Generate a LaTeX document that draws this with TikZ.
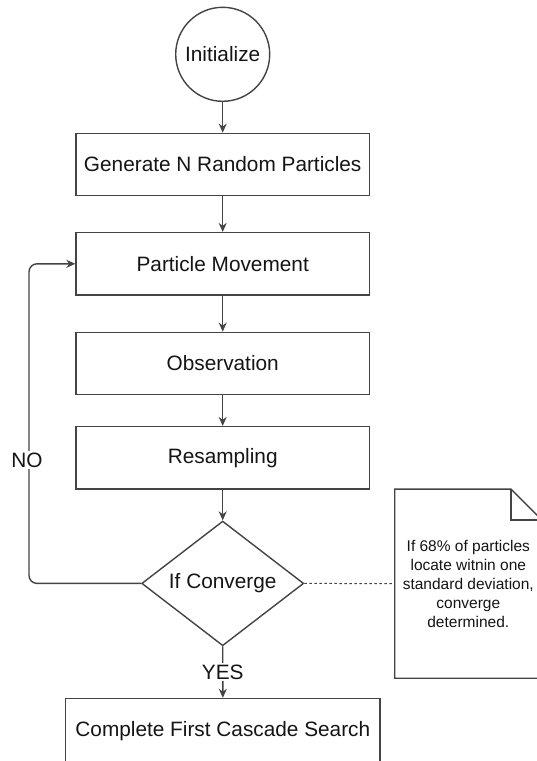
\documentclass[tikz,border=0pt]{standalone}
\usepackage{fontspec}
\setmainfont{Liberation Sans}
\usetikzlibrary{shapes.geometric,arrows.meta}
\definecolor{linec}{HTML}{444444}
\definecolor{textc}{HTML}{151515}
\begin{document}
\begin{tikzpicture}[x=1pt,y=-1pt,
  every node/.style={text=textc},
  mainfont/.style={font=\fontsize{20.8}{25}\selectfont},
  box/.style={draw=linec,line width=1.4pt,rectangle,minimum width=293.3pt,minimum height=62.4pt,inner sep=0pt,mainfont},
  conn/.style={draw=linec,line width=1.4pt,-{Stealth[length=9pt,width=8pt]}},
  lbl/.style={fill=white,inner sep=2pt,mainfont}
]
\useasboundingbox (0,0) rectangle (537,761);
\fill[white] (0,0) rectangle (537,761);

\node[circle,draw=linec,line width=1.4pt,minimum size=94pt,inner sep=0pt,mainfont] (init) at (222.7,54.3) {Initialize};
\node[box] (gen) at (222.7,164.5) {Generate N Random Particles};
\node[box] (move) at (222.7,263.8) {Particle Movement};
\node[box] (obs) at (222.7,363.5) {Observation};
\node[box] (res) at (222.7,457.8) {Resampling};
\node[diamond,draw=linec,line width=1.4pt,inner sep=0pt,shape aspect=1.3,minimum width=162pt,minimum height=124.7pt,mainfont] (conv) at (222.7,583.4) {If Converge};
\node[box,minimum width=314.3pt,minimum height=66pt] (final) at (222.85,731.5) {Complete First Cascade Search};

\node[minimum width=146.8pt,minimum height=188.7pt,inner sep=0pt,align=center,
  font=\fontsize{15.5}{19}\selectfont] (note) at (468.3,583.65)
  {If 68\% of particles\\locate witnin one\\standard deviation,\\converge\\determined.};
\draw[linec,line width=1.4pt,line join=miter]
  (note.north west) -- ([xshift=-31pt]note.north east) -- ([yshift=-31pt]note.north east)
  -- (note.south east) -- (note.south west) -- cycle;
\draw[linec,line width=1.4pt]
  ([xshift=-31pt]note.north east) -- ([xshift=-31pt,yshift=-31pt]note.north east) -- ([yshift=-31pt]note.north east);

\draw[conn] (init) -- (gen);
\draw[conn] (gen) -- (move);
\draw[conn] (move) -- (obs);
\draw[conn] (obs) -- (res);
\draw[conn] (res) -- (conv);
\draw[conn] (conv.south) -- node[lbl,pos=0.5] {YES} (final.north);

\coordinate (lb) at (29,583.4);
\coordinate (lt) at (29,263.8);
\draw[conn,rounded corners=8pt] (conv.west) -- (lb) -- (lt) -- (move.west);
\node[lbl] (no) at (27,460) {NO};

\draw[linec,line width=1pt,dash pattern=on 2.5pt off 2.5pt] (conv.east) -- (note.west);
\end{tikzpicture}
\end{document}
